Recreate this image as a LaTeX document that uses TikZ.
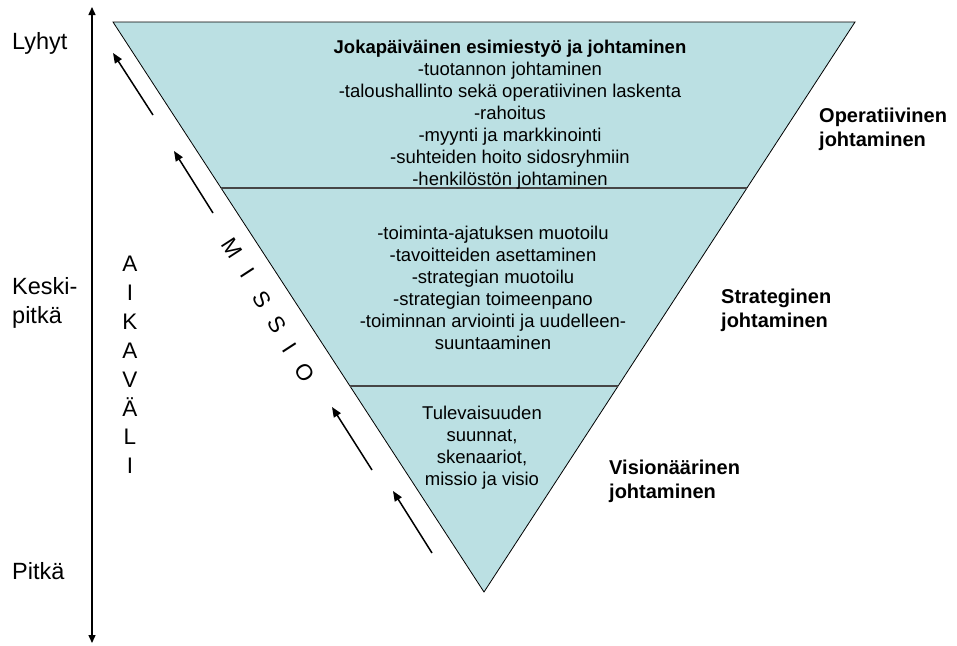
\documentclass[tikz,border=0pt]{standalone}
\usepackage{fontspec}
\setmainfont{Liberation Sans}
\usetikzlibrary{arrows.meta,calc}
\definecolor{trifill}{RGB}{187,224,227}
\definecolor{divline}{RGB}{70,70,70}
\begin{document}
\begin{tikzpicture}[x=1pt,y=-1pt,
  body/.style={font=\fontsize{18.5}{22}\selectfont, align=center, inner sep=0pt},
  sidelabel/.style={font=\fontsize{20}{24}\selectfont\bfseries, align=left, inner sep=0pt, anchor=west},
  leftlabel/.style={font=\fontsize{23.5}{29}\selectfont, align=left, inner sep=0pt, anchor=west},
  bigletter/.style={font=\fontsize{22.5}{28}\selectfont, inner sep=0pt},
  missio/.style={bigletter, rotate=-57},
  flowarrow/.style={line width=1.5pt, -{Triangle[length=10pt,width=8pt]}},
  axisarrow/.style={line width=1.4pt, {Triangle[length=8pt,width=7pt]}-{Triangle[length=8pt,width=7pt]}},
  divider/.style={draw=divline, line width=1.1pt}
]
\useasboundingbox (0,0) rectangle (957,645);

% triangle
\coordinate (TL) at (113,22);
\coordinate (TR) at (855,22);
\coordinate (B) at (484,592);
\filldraw[fill=trifill, draw=black, line width=0.8pt] (TL) -- (TR) -- (B) -- cycle;

% dividers
\coordinate (d1l) at ($(TL)!166/570!(B)$);
\coordinate (d1r) at ($(TR)!166/570!(B)$);
\coordinate (d2l) at ($(TL)!364/570!(B)$);
\coordinate (d2r) at ($(TR)!364/570!(B)$);
\draw[divider] (d1l) -- (d1r);
\draw[divider] (d2l) -- (d2r);

% texts inside
\node[body] (top) at (510,115) {\textbf{Jokapäiväinen esimiestyö ja johtaminen}\\
-tuotannon johtaminen\\
-taloushallinto sekä operatiivinen laskenta\\
-rahoitus\\
-myynti ja markkinointi\\
-suhteiden hoito sidosryhmiin\\
-henkilöstön johtaminen};
\node[body] (mid) at (493,288) {-toiminta-ajatuksen muotoilu\\
-tavoitteiden asettaminen\\
-strategian muotoilu\\
-strategian toimeenpano\\
-toiminnan arviointi ja uudelleen-\\
suuntaaminen};
\node[body] (bot) at (482,448) {Tulevaisuuden\\
suunnat,\\
skenaariot,\\
missio ja visio};

% right labels
\node[sidelabel] (op) at (819,129) {Operatiivinen\\johtaminen};
\node[sidelabel] (st) at (721,310) {Strateginen\\johtaminen};
\node[sidelabel] (vi) at (609,481) {Visionäärinen\\johtaminen};

% left labels
\node[leftlabel] (ly) at (12,43) {Lyhyt};
\node[leftlabel] (ke) at (12,303) {Keski-\\pitkä};
\node[leftlabel] (pi) at (12,571) {Pitkä};

% time axis
\coordinate (axtop) at (92,7);
\coordinate (axbot) at (92,643);
\draw[axisarrow] (axbot) -- (axtop);

% AIKAVALI
\node[bigletter, align=center, font=\fontsize{22.5}{28.9}\selectfont] (aika) at (130,365) {A\\I\\K\\A\\V\\Ä\\L\\I};

% MISSIO letters
\node[missio] (m1) at (232,248) {M};
\node[missio] (m2) at (248,273) {I};
\node[missio] (m3) at (262,300) {S};
\node[missio] (m4) at (277,325) {S};
\node[missio] (m5) at (290,348) {I};
\node[missio] (m6) at (305,373) {O};

% flow arrows
\coordinate (a1s) at (153,115); \coordinate (a1e) at (113,53);
\coordinate (a2s) at (213,213); \coordinate (a2e) at (174,151);
\coordinate (a3s) at (372,470); \coordinate (a3e) at (332,407);
\coordinate (a4s) at (432,553); \coordinate (a4e) at (393,491);
\draw[flowarrow] (a1s) -- (a1e);
\draw[flowarrow] (a2s) -- (a2e);
\draw[flowarrow] (a3s) -- (a3e);
\draw[flowarrow] (a4s) -- (a4e);
\end{tikzpicture}
\end{document}
